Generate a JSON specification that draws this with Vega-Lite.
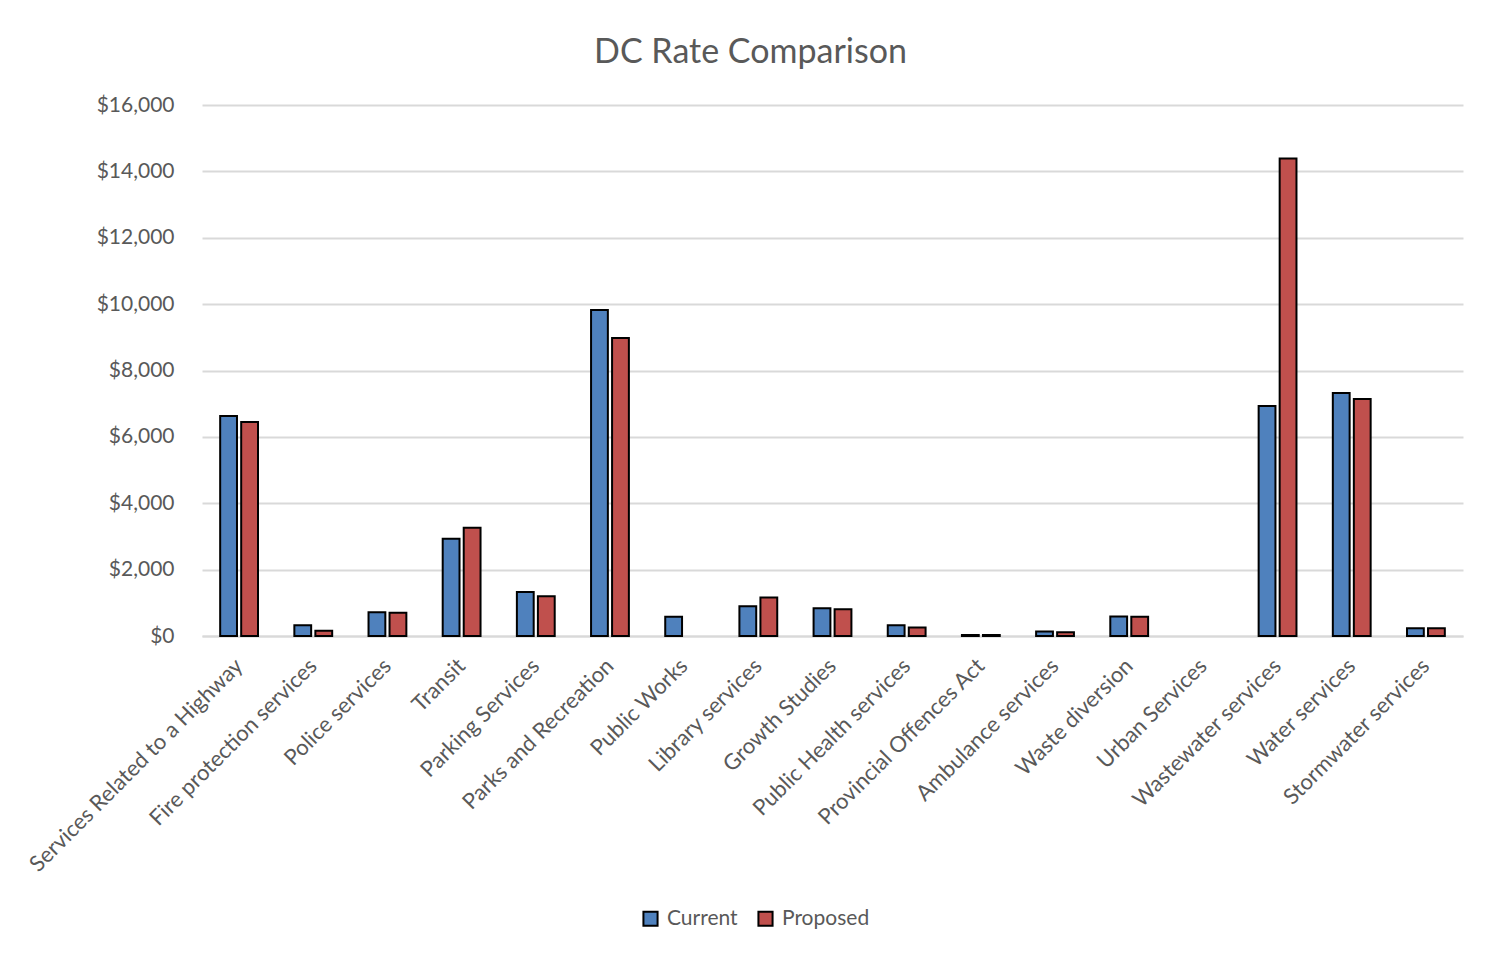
{
  "$schema": "https://vega.github.io/schema/vega-lite/v6.json",
  "width": 1261,
  "height": 531,
  "autosize": {"type": "none"},
  "padding": {"left": 202, "top": 105, "right": 34, "bottom": 319},
  "background": "white",
  "title": {
    "text": "DC Rate Comparison",
    "font": "Lato",
    "fontSize": 34,
    "fontWeight": "normal",
    "color": "#595959",
    "anchor": "middle",
    "dx": -82,
    "offset": 24
  },
  "data": {
    "values": [
      {"service": "Services Related to a Highway", "series": "Current", "value": 6630},
      {"service": "Services Related to a Highway", "series": "Proposed", "value": 6450},
      {"service": "Fire protection services", "series": "Current", "value": 325},
      {"service": "Fire protection services", "series": "Proposed", "value": 156},
      {"service": "Police services", "series": "Current", "value": 716},
      {"service": "Police services", "series": "Proposed", "value": 697},
      {"service": "Transit", "series": "Current", "value": 2932},
      {"service": "Transit", "series": "Proposed", "value": 3263},
      {"service": "Parking Services", "series": "Current", "value": 1329},
      {"service": "Parking Services", "series": "Proposed", "value": 1197},
      {"service": "Parks and Recreation", "series": "Current", "value": 9820},
      {"service": "Parks and Recreation", "series": "Proposed", "value": 8977},
      {"service": "Public Works", "series": "Current", "value": 577},
      {"service": "Public Works", "series": "Proposed", "value": null},
      {"service": "Library services", "series": "Current", "value": 896},
      {"service": "Library services", "series": "Proposed", "value": 1158},
      {"service": "Growth Studies", "series": "Current", "value": 836},
      {"service": "Growth Studies", "series": "Proposed", "value": 806},
      {"service": "Public Health services", "series": "Current", "value": 325},
      {"service": "Public Health services", "series": "Proposed", "value": 256},
      {"service": "Provincial Offences Act", "series": "Current", "value": 30},
      {"service": "Provincial Offences Act", "series": "Proposed", "value": 30},
      {"service": "Ambulance services", "series": "Current", "value": 135},
      {"service": "Ambulance services", "series": "Proposed", "value": 115},
      {"service": "Waste diversion", "series": "Current", "value": 586},
      {"service": "Waste diversion", "series": "Proposed", "value": 577},
      {"service": "Urban Services", "series": "Current", "value": null},
      {"service": "Urban Services", "series": "Proposed", "value": null},
      {"service": "Wastewater services", "series": "Current", "value": 6932},
      {"service": "Wastewater services", "series": "Proposed", "value": 14391},
      {"service": "Water services", "series": "Current", "value": 7323},
      {"service": "Water services", "series": "Proposed", "value": 7143},
      {"service": "Stormwater services", "series": "Current", "value": 235},
      {"service": "Stormwater services", "series": "Proposed", "value": 235}
    ]
  },
  "mark": {"type": "bar", "stroke": "black", "strokeWidth": 2},
  "encoding": {
    "x": {
      "field": "service",
      "type": "nominal",
      "sort": null,
      "scale": {
        "domain": ["Services Related to a Highway", "Fire protection services", "Police services", "Transit", "Parking Services", "Parks and Recreation", "Public Works", "Library services", "Growth Studies", "Public Health services", "Provincial Offences Act", "Ambulance services", "Waste diversion", "Urban Services", "Wastewater services", "Water services", "Stormwater services"],
        "paddingInner": 0.49,
        "paddingOuter": 0.245
      },
      "axis": {
        "title": null,
        "labelAngle": -45,
        "labelAlign": "right",
        "labelBaseline": "middle",
        "labelFont": "Lato",
        "labelFontSize": 22,
        "labelColor": "#595959",
        "labelPadding": 26,
        "ticks": false,
        "domainColor": "#D9D9D9",
        "domainWidth": 2,
        "labelLimit": 400
      }
    },
    "xOffset": {"field": "series", "type": "nominal", "scale": {"paddingInner": 0.2}},
    "y": {
      "field": "value",
      "type": "quantitative",
      "scale": {"domain": [0, 16000], "nice": false},
      "axis": {
        "title": null,
        "values": [0, 2000, 4000, 6000, 8000, 10000, 12000, 14000, 16000],
        "format": "$,.0f",
        "labelFont": "Lato",
        "labelFontSize": 21,
        "labelColor": "#595959",
        "labelPadding": 28,
        "ticks": false,
        "domain": false,
        "gridColor": "#D9D9D9",
        "gridWidth": 2
      }
    },
    "color": {
      "field": "series",
      "type": "nominal",
      "scale": {"domain": ["Current", "Proposed"], "range": ["#4F81BD", "#C0504D"]},
      "legend": {
        "title": null,
        "orient": "none",
        "direction": "horizontal",
        "legendX": 438,
        "legendY": 803,
        "symbolType": "square",
        "symbolSize": 200,
        "symbolStrokeColor": "black",
        "symbolStrokeWidth": 2,
        "labelFont": "Lato",
        "labelFontSize": 21,
        "labelColor": "#595959",
        "columnPadding": 16,
        "labelOffset": 6
      }
    }
  },
  "config": {"view": {"stroke": null}}
}
